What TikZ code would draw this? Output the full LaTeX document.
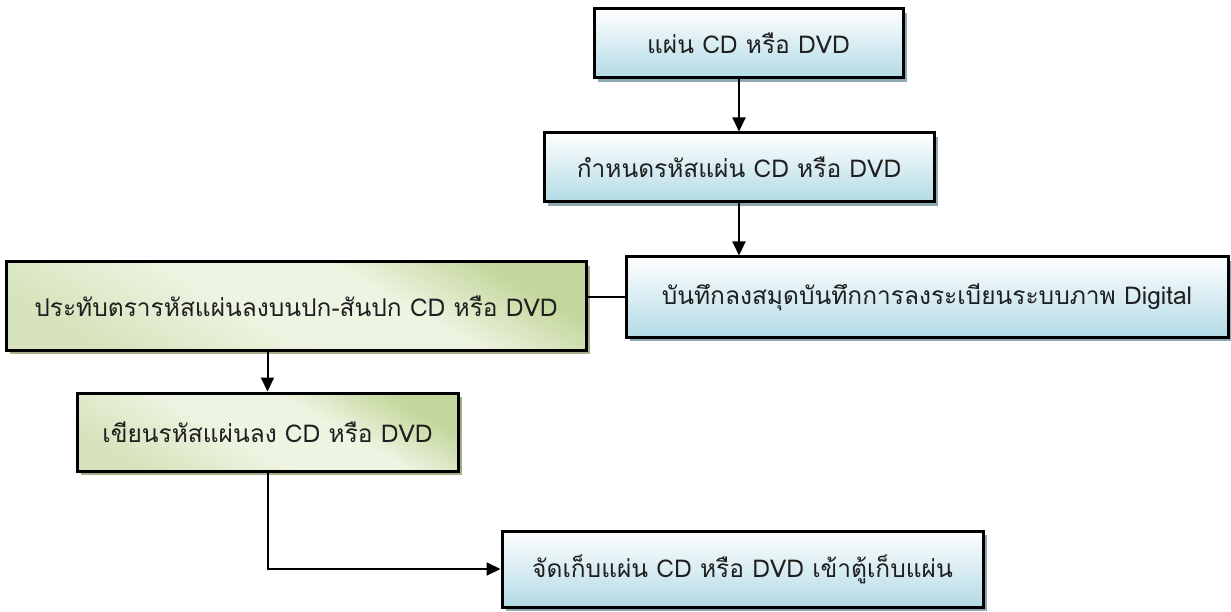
\documentclass[tikz,border=0pt]{standalone}
\usepackage{fontspec}
\newfontfamily\thaifont[Script=Thai]{Loma}
\usetikzlibrary{arrows.meta,shadows}
\definecolor{bluetop}{HTML}{FFFFFF}
\definecolor{bluebot}{HTML}{B2DAE5}
\definecolor{blueshadow}{HTML}{8FA9B3}
\definecolor{greendark}{HTML}{C3D69B}
\definecolor{greenmid}{HTML}{D6E3BC}
\definecolor{greenlight}{HTML}{EEF4E2}
\definecolor{greenshadow}{HTML}{A3AE88}
\pgfdeclarehorizontalshading{greenshade}{100bp}{color(0bp)=(greenmid); color(25bp)=(greenmid); color(45bp)=(greenlight); color(60bp)=(greenlight); color(75bp)=(greendark); color(100bp)=(greendark)}
\tikzset{
  boxbase/.style={draw=black, line width=3pt, rectangle, inner sep=0pt, font=\thaifont\fontsize{24.5}{28}\selectfont, text=black!88},
  bluebox/.style={boxbase, top color=bluetop, bottom color=bluebot,
    drop shadow={shadow xshift=4pt, shadow yshift=-4pt, fill=blueshadow, opacity=1}},
  greenbox/.style={boxbase, shading=greenshade, shading angle=60,
    drop shadow={shadow xshift=4pt, shadow yshift=-4pt, fill=greenshadow, opacity=1}},
  conn/.style={line width=2pt, black},
  arr/.style={conn, -{Triangle[length=14pt, width=13pt]}}
}
\begin{document}
\begin{tikzpicture}[x=1pt, y=-1pt]
\useasboundingbox (0,0) rectangle (1231,612);
\node[bluebox, minimum width=309pt, minimum height=69pt] (b1) at (748.5,43.5) {แผ่น CD หรือ DVD};
\node[bluebox, minimum width=390pt, minimum height=69pt] (b2) at (739,167.5) {กำหนดรหัสแผ่น CD หรือ DVD};
\node[bluebox, minimum width=602pt, minimum height=80pt] (b3) at (927,297) {บันทึกลงสมุดบันทึกการลงระเบียนระบบภาพ Digital};
\node[greenbox, minimum width=580pt, minimum height=88pt] (g1) at (296,306) {ประทับตรารหัสแผ่นลงบนปก-สันปก CD หรือ DVD};
\node[greenbox, minimum width=381pt, minimum height=78pt] (g2) at (267.5,432) {เขียนรหัสแผ่นลง CD หรือ DVD};
\node[bluebox, minimum width=481pt, minimum height=76pt] (b6) at (742.5,569) {จัดเก็บแผ่น CD หรือ DVD เข้าตู้เก็บแผ่น};
\draw[arr] (b2.north |- b1.south) -- (b2.north);
\draw[arr] (b2.south) -- (b2.south |- b3.north);
\draw[conn] (b3.west) -- (b3.west -| g1.east);
\draw[arr] (g2.north |- g1.south) -- (g2.north);
\draw[arr] (g2.south) -- (g2.south |- b6.west) -- (b6.west);
\end{tikzpicture}
\end{document}
